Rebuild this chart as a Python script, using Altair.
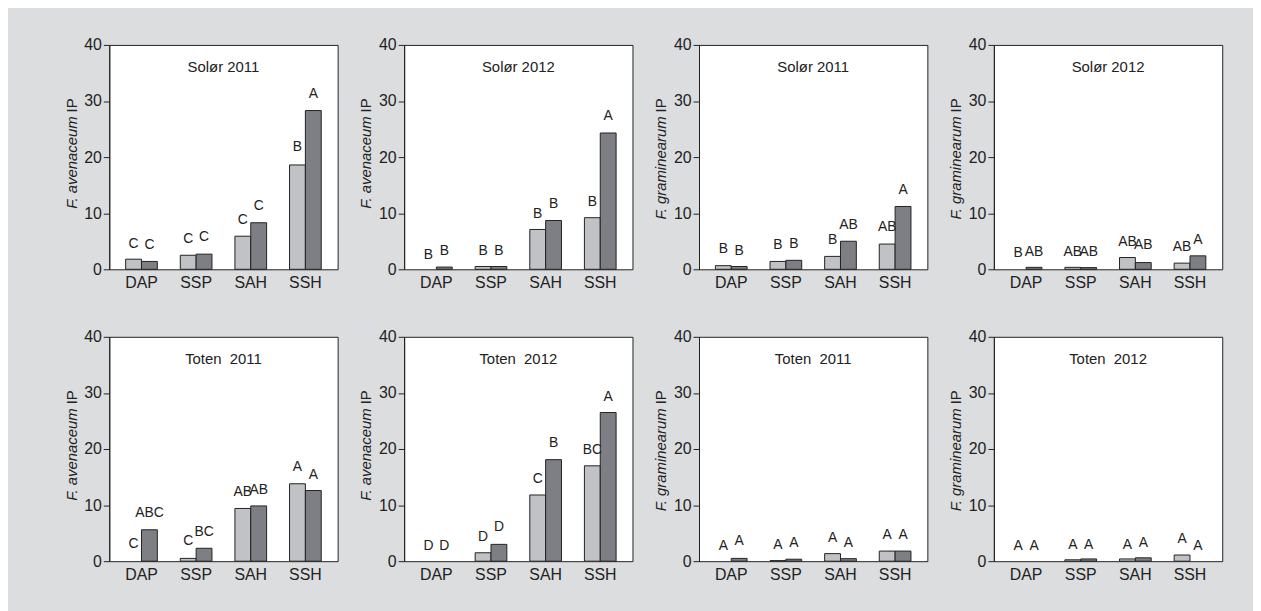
import altair as alt
import pandas as pd

categories = ["DAP", "SSP", "SAH", "SSH"]
series = ["light", "dark"]
panel_titles = ["Solør 2011", "Solør 2012", "Solør 2011", "Solør 2012",
                "Toten\u00a0 2011", "Toten\u00a0 2012", "Toten\u00a0 2011", "Toten\u00a0 2012"]
species = ["F. avenaceum", "F. avenaceum", "F. graminearum", "F. graminearum",
           "F. avenaceum", "F. avenaceum", "F. graminearum", "F. graminearum"]
y_unit = "IP"

light_vals = [
    [1.8, 2.5, 5.9, 18.6],
    [0.0, 0.5, 7.1, 9.2],
    [0.65, 1.4, 2.3, 4.5],
    [0.0, 0.35, 2.1, 1.1],
    [0.0, 0.5, 9.4, 13.8],
    [0.0, 1.5, 11.8, 17.0],
    [0.0, 0.1, 1.35, 1.8],
    [0.0, 0.25, 0.4, 1.1],
]
dark_vals = [
    [1.4, 2.7, 8.3, 28.3],
    [0.4, 0.5, 8.7, 24.3],
    [0.5, 1.6, 5.0, 11.2],
    [0.35, 0.3, 1.2, 2.4],
    [5.6, 2.3, 9.85, 12.6],
    [0.0, 3.0, 18.1, 26.5],
    [0.5, 0.35, 0.45, 1.8],
    [0.0, 0.4, 0.6, 0.0],
]
light_letters = [
    ["C", "C", "C", "B"],
    ["B", "B", "B", "B"],
    ["B", "B", "B", "AB"],
    ["B", "AB", "AB", "AB"],
    ["C", "C", "AB", "A"],
    ["D", "D", "C", "BC"],
    ["A", "A", "A", "A"],
    ["A", "A", "A", "A"],
]
dark_letters = [
    ["C", "C", "C", "A"],
    ["B", "B", "B", "A"],
    ["B", "B", "AB", "A"],
    ["AB", "AB", "AB", "A"],
    ["ABC", "BC", "AB", "A"],
    ["D", "D", "B", "A"],
    ["A", "A", "A", "A"],
    ["A", "A", "A", "A"],
]
# height (in IP units) of the top of each significance letter's support (mean + error)
light_label_y = [
    [3.85, 4.7, 8.1, 21.0],
    [1.9, 2.5, 9.2, 11.2],
    [2.95, 3.55, 4.55, 6.8],
    [2.2, 2.4, 4.1, 3.25],
    [2.35, 2.9, 11.55, 16.0],
    [1.95, 3.6, 14.0, 19.05],
    [1.95, 2.2, 3.4, 4.0],
    [2.05, 2.2, 2.2, 3.2],
]
dark_label_y = [
    [3.55, 5.0, 10.65, 30.6],
    [2.5, 2.5, 10.9, 26.6],
    [2.5, 3.85, 7.2, 13.4],
    [2.4, 2.4, 3.55, 4.45],
    [7.9, 4.5, 11.9, 14.7],
    [1.95, 5.3, 20.35, 28.6],
    [2.8, 2.5, 2.5, 4.0],
    [2.05, 2.2, 2.5, 2.05],
]

LIGHT = "#c1c2c6"
DARK = "#7e7f84"
INK = "#222222"
FONT = "Liberation Sans"
W, H = 230, 226


def panel(i):
    rows = []
    for j, c in enumerate(categories):
        rows.append(dict(cat=c, series="light", value=light_vals[i][j],
                         letter=light_letters[i][j], label_y=light_label_y[i][j]))
        rows.append(dict(cat=c, series="dark", value=dark_vals[i][j],
                         letter=dark_letters[i][j], label_y=dark_label_y[i][j]))
    df = pd.DataFrame(rows)
    base = alt.Chart(df)
    x = alt.X("cat:N", sort=categories,
              scale=alt.Scale(paddingInner=0.42, paddingOuter=0.3),
              axis=alt.Axis(title=None, labelAngle=0, ticks=False, domain=False,
                            labelPadding=5, labelFontSize=16, labelColor=INK, labelFont=FONT))
    xo = alt.XOffset("series:N", sort=series, scale=alt.Scale(paddingInner=0, paddingOuter=0))
    bars = base.transform_filter("datum.value > 0").mark_bar(
        stroke=INK, strokeWidth=1).encode(
        x=x,
        xOffset=xo,
        y=alt.Y("value:Q", scale=alt.Scale(domain=[0, 40], nice=False),
                axis=alt.Axis(values=[0, 10, 20, 30, 40], title=None, grid=False,
                              labelFontSize=16, labelFont=FONT,
                              labelColor=INK, tickSize=6, tickColor=INK,
                              domainColor=INK, labelPadding=2)),
        color=alt.Color("series:N", scale=alt.Scale(domain=series, range=[LIGHT, DARK]),
                        legend=None),
    )
    text = base.mark_text(baseline="alphabetic", fontSize=14, font=FONT, color=INK).encode(
        x=x,
        xOffset=xo,
        y=alt.Y("label_y:Q"),
        text="letter:N",
    )
    ttl = alt.Chart(pd.DataFrame({"t": [panel_titles[i]]})).mark_text(
        fontSize=15, font=FONT, color=INK, fontWeight="normal",
        baseline="alphabetic", align="center").encode(
        x=alt.value(W / 2), y=alt.value(27), text="t:N")
    # y-axis title: italic species name followed by upright "IP"
    ytit_sp = alt.Chart(pd.DataFrame({"t": [species[i]]})).mark_text(
        fontSize=15, font=FONT, color=INK, fontStyle="italic", angle=270,
        align="right", baseline="alphabetic").encode(
        x=alt.value(-33), y=alt.value(72), text="t:N")
    ytit_ip = alt.Chart(pd.DataFrame({"t": [y_unit]})).mark_text(
        fontSize=15, font=FONT, color=INK, angle=270,
        align="left", baseline="alphabetic").encode(
        x=alt.value(-33), y=alt.value(68), text="t:N")
    return alt.layer(bars, text, ttl, ytit_sp, ytit_ip).properties(width=W, height=H)


chart = alt.concat(*[panel(i) for i in range(8)], columns=4,
                   spacing={"row": 37, "column": 20}).properties(
    padding={"left": 56, "top": 26, "right": 30, "bottom": 28},
    background="#dcdddf",
).configure_view(stroke=INK, strokeWidth=1, fill="white")

chart.save("out.html", embed_options={"renderer": "svg", "actions": False})
